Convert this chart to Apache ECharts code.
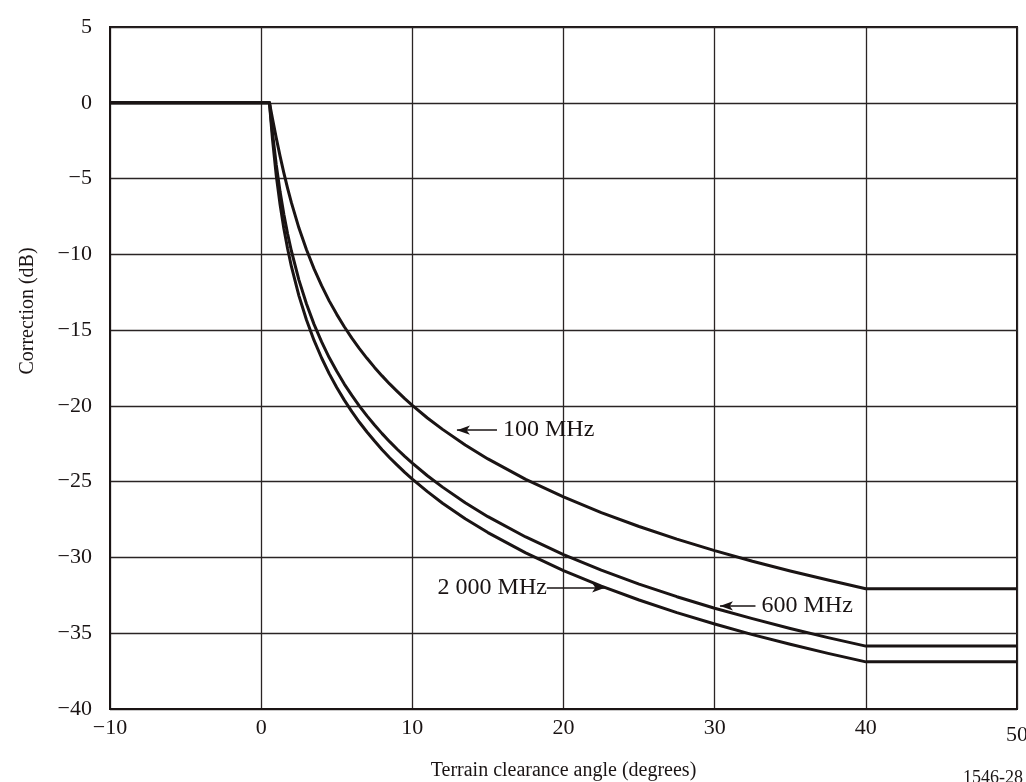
<!DOCTYPE html>
<html>
<head>
<meta charset="utf-8">
<script src="https://cdn.jsdelivr.net/npm/echarts@6/dist/echarts.min.js"></script>
<style>html,body{margin:0;padding:0;background:#fff}#c{width:1026px;height:782px}</style>
</head>
<body>
<div id="c"></div>
<script>
const angles  = [-10, 0.55, 0.65, 0.75, 1, 1.25, 1.5, 1.75, 2, 2.5, 3, 3.5, 4, 4.5, 5, 5.5, 6, 6.5, 7, 7.5, 8, 8.5, 9, 9.5, 10, 11, 12, 13.5, 15, 17.5, 20, 22.5, 25, 27.5, 30, 32.5, 35, 37.5, 40, 50];
const mhz100  = [0, 0, -0.52, -1.05, -2.33, -3.52, -4.63, -5.65, -6.59, -8.27, -9.70, -10.96, -12.07, -13.07, -13.96, -14.78, -15.53, -16.22, -16.86, -17.46, -18.02, -18.55, -19.04, -19.52, -19.96, -20.80, -21.55, -22.58, -23.50, -24.85, -26.01, -27.04, -27.96, -28.79, -29.55, -30.25, -30.89, -31.49, -32.06, -32.06];
const mhz600  = [0, 0, -1.01, -1.98, -4.10, -5.86, -7.36, -8.65, -9.78, -11.70, -13.28, -14.62, -15.78, -16.81, -17.72, -18.56, -19.31, -20.01, -20.66, -21.26, -21.83, -22.36, -22.86, -23.33, -23.77, -24.61, -25.36, -26.39, -27.31, -28.65, -29.81, -30.84, -31.76, -32.59, -33.35, -34.04, -34.69, -35.29, -35.85, -35.85];
const mhz2000 = [0, 0, -1.25, -2.42, -4.82, -6.72, -8.30, -9.63, -10.80, -12.74, -14.33, -15.68, -16.84, -17.87, -18.79, -19.62, -20.38, -21.08, -21.72, -22.32, -22.89, -23.42, -23.91, -24.39, -24.83, -25.66, -26.42, -27.45, -28.36, -29.70, -30.87, -31.89, -32.81, -33.64, -34.39, -35.09, -35.73, -36.33, -36.89, -36.89];
// annotations: [label, arrowTail x, arrowHead x, y, text anchor x, align]
const notes = [
  ['100 MHz', 15.6, 12.95, -21.6, 16.0, 'left'],
  ['2 000 MHz', 18.9, 22.75, -32.0, 18.9, 'right'],
  ['600 MHz', 32.7, 30.35, -33.2, 33.1, 'left']
];

const FONT = '"Liberation Serif","Times New Roman",serif';
const INK = '#1a1414';
const pair = a => angles.map((x, i) => [x, a[i]]);
const fmt = v => (v < 0 ? '\u2212' + Math.abs(v) : String(v));

const chart = echarts.init(document.getElementById('c'), null, {renderer: 'canvas'});
const lineSeries = (name, arr) => ({
  name, type: 'line', data: pair(arr), showSymbol: false, symbol: 'none',
  lineStyle: {color: INK, width: 3, join: 'round'}, z: 5, animation: false
});
chart.setOption({
  animation: false,
  grid: {left: 110, right: 9, top: 27, bottom: 73, outerBoundsMode: 'none', containLabel: false,
         show: true, borderColor: INK, borderWidth: 2},
  xAxis: {
    type: 'value', min: -10, max: 50, interval: 10,
    name: 'Terrain clearance angle (degrees)', nameLocation: 'middle', nameGap: 52,
    nameTextStyle: {fontFamily: FONT, fontSize: 20, color: INK},
    axisLine: {show: true, onZero: false, lineStyle: {color: INK, width: 2}},
    axisTick: {show: false},
    splitLine: {show: true, lineStyle: {color: '#2a2424', width: 1.3}},
    axisLabel: {
      fontFamily: FONT, fontSize: 22, color: INK, margin: 8,
      formatter: v => v === 50 ? '{low|50}' : fmt(v),
      rich: {low: {fontFamily: FONT, fontSize: 22, color: INK, padding: [7, 0, 0, 0]}}
    }
  },
  yAxis: {
    type: 'value', min: -40, max: 5, interval: 5,
    axisLine: {show: true, onZero: false, lineStyle: {color: INK, width: 2}},
    axisTick: {show: false},
    splitLine: {show: true, lineStyle: {color: '#2a2424', width: 1.3}},
    axisLabel: {fontFamily: FONT, fontSize: 22, color: INK, margin: 18, formatter: fmt}
  },
  series: [
    lineSeries('100 MHz', mhz100),
    lineSeries('600 MHz', mhz600),
    lineSeries('2000 MHz', mhz2000),
    {
      type: 'line', data: [], silent: true,
      markLine: {
        silent: true, animation: false, symbol: ['none', 'arrow'], symbolSize: [7, 13],
        label: {show: false},
        lineStyle: {color: INK, width: 1.5, type: 'solid'},
        emphasis: {disabled: true},
        data: notes.map(n => [{coord: [n[1], n[3]]}, {coord: [n[2], n[3]]}])
      }
    }
  ]
});

const g = notes.map(n => {
  const p = chart.convertToPixel({gridIndex: 0}, [n[4], n[3]]);
  return {type: 'text', x: p[0], y: p[1],
    style: {text: n[0], font: '24px ' + FONT, fill: INK, align: n[5], verticalAlign: 'middle'}};
});
g.push({type: 'text', x: 28, y: 311, rotation: Math.PI / 2,
  style: {text: 'Correction (dB)', font: '20px ' + FONT, fill: INK, align: 'center', verticalAlign: 'middle'}});
g.push({type: 'text', x: 1023, y: 769,
  style: {text: '1546-28', font: '18px ' + FONT, fill: INK, align: 'right', verticalAlign: 'top'}});
chart.setOption({graphic: g});
</script>
</body>
</html>
